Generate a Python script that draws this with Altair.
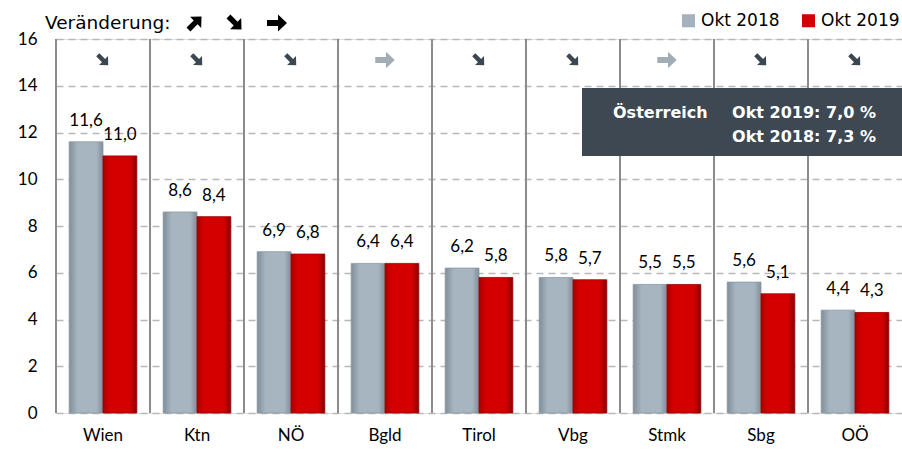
import altair as alt
import pandas as pd

# ---- data ----
regions = ["Wien", "Ktn", "NÖ", "Bgld", "Tirol", "Vbg", "Stmk", "Sbg", "OÖ"]
okt2018 = [11.6, 8.6, 6.9, 6.4, 6.2, 5.8, 5.5, 5.6, 4.4]
okt2019 = [11.0, 8.4, 6.8, 6.4, 5.8, 5.7, 5.5, 5.1, 4.3]
trend = ["down", "down", "down", "flat", "down", "down", "flat", "down", "down"]
series = ["Okt 2018", "Okt 2019"]
y_ticks = [0, 2, 4, 6, 8, 10, 12, 14, 16]
austria_2019 = 7.0
austria_2018 = 7.3

W, H = 846, 374
GRAY = "#a3b2bd"
RED = "#d20000"

# thick right-pointing arrow, rotated via angle
ARROW = "M-1,-0.3 L0.1,-0.3 L0.1,-0.85 L1,0 L0.1,0.85 L0.1,0.3 L-1,0.3 Z"
angles = {"up": 315, "down": 45, "flat": 0}
sizes = {"up": 220, "down": 220, "flat": 380}


def de(v):
    return f"{v:.1f}".replace(".", ",")


rows = []
for i, r in enumerate(regions):
    for s, v in zip(series, (okt2018[i], okt2019[i])):
        rows.append({"region": r, "series": s, "value": v, "label": de(v)})
df = pd.DataFrame(rows)

tdf = pd.DataFrame({
    "region": regions,
    "trend": trend,
    "ang": [angles[t] for t in trend],
    "sz": [sizes[t] for t in trend],
    "ypos": [15.1] * len(regions),
})

xscale = alt.Scale(domain=regions, paddingInner=0, paddingOuter=0)
xoff = alt.Scale(domain=series, paddingInner=0, paddingOuter=0.39)
yscale = alt.Scale(domain=[0, 16], nice=False)

X = alt.X("region:N", scale=xscale, sort=regions,
          axis=alt.Axis(title=None, labelAngle=0, ticks=False, domain=False,
                        bandPosition=0.5, labelAlign="center",
                        labelPadding=22, labelFontSize=17, labelFont="Lato",
                        labelColor="black"))
Y = alt.Y("value:Q", scale=yscale,
          axis=alt.Axis(values=y_ticks, title=None, grid=True, gridDash=[7, 5],
                        gridColor="#b8b8b8", gridWidth=1.5, domain=False,
                        ticks=False, labelPadding=19, labelFontSize=17,
                        labelFont="Lato", labelColor="black"))

base = alt.Chart(df)

gray_grad = alt.Gradient(gradient="linear", x1=0, x2=1, y1=0, y2=0, stops=[
    alt.GradientStop(color="#7f8e99", offset=0),
    alt.GradientStop(color="#a6b5c0", offset=0.25),
    alt.GradientStop(color="#a6b5c0", offset=0.8),
    alt.GradientStop(color="#7f8e99", offset=1)])
red_grad = alt.Gradient(gradient="linear", x1=0, x2=1, y1=0, y2=0, stops=[
    alt.GradientStop(color="#a80000", offset=0),
    alt.GradientStop(color="#d40000", offset=0.2),
    alt.GradientStop(color="#d40000", offset=0.8),
    alt.GradientStop(color="#8a0000", offset=1)])

bars_g = base.transform_filter(alt.datum.series == "Okt 2018").mark_bar(
    fill=gray_grad, stroke="#8a98a2", strokeWidth=0.8).encode(
    x=X, xOffset=alt.XOffset("series:N", scale=xoff), y=Y)
bars_r = base.transform_filter(alt.datum.series == "Okt 2019").mark_bar(
    fill=red_grad, stroke="#9a0000", strokeWidth=0.8).encode(
    x=X, xOffset=alt.XOffset("series:N", scale=xoff), y=Y)

legend_layer = base.mark_square(opacity=0).encode(
    x=X, y=Y,
    color=alt.Color("series:N", scale=alt.Scale(domain=series, range=[GRAY, RED]),
                    legend=alt.Legend(title=None, orient="none", direction="horizontal",
                                      legendX=624, legendY=-27, symbolType="square",
                                      symbolSize=170, symbolOpacity=1,
                                      symbolStrokeWidth=0, labelFont="DejaVu Sans",
                                      labelFontSize=17, labelColor="black",
                                      labelOffset=4, columnPadding=20,
                                      padding=0)))

labels = base.mark_text(baseline="bottom", dy=-12, fontSize=17, font="Lato",
                        color="black").encode(
    x=X, xOffset=alt.XOffset("series:N", scale=xoff), y=Y, text="label:N")

seps = alt.Chart(tdf).mark_rule(color="#8c8c8c", strokeWidth=2).encode(
    x=alt.X("region:N", scale=xscale, bandPosition=0, sort=regions),
    y=alt.value(0), y2=alt.value(H))

arrows_down = alt.Chart(tdf).transform_filter(alt.datum.trend != "flat").mark_point(
    shape=ARROW, filled=True, opacity=1, color="#3b4751").encode(
    x=alt.X("region:N", scale=xscale, sort=regions),
    y=alt.Y("ypos:Q", scale=yscale),
    size=alt.Size("sz:Q", scale=None),
    angle=alt.Angle("ang:Q", scale=None))
arrows_flat = alt.Chart(tdf).transform_filter(alt.datum.trend == "flat").mark_point(
    shape=ARROW, filled=True, opacity=1, color="#a2adb5").encode(
    x=alt.X("region:N", scale=xscale, sort=regions),
    y=alt.Y("ypos:Q", scale=yscale),
    size=alt.Size("sz:Q", scale=None),
    angle=alt.Angle("ang:Q", scale=None))

header = alt.Chart(pd.DataFrame({"t": ["Veränderung:"]})).mark_text(
    align="left", baseline="middle", fontSize=18.5, font="DejaVu Sans",
    color="black").encode(text="t:N", x=alt.value(-11), y=alt.value(-16))

hdr_arrows = alt.Chart(pd.DataFrame({
    "ang": [angles["up"], angles["down"], angles["flat"]],
    "sz": [340, 340, 400],
    "px": [139, 179, 221]})).mark_point(
    shape=ARROW, filled=True, opacity=1, color="black").encode(
    x=alt.X("px:Q", scale=None), y=alt.value(-16),
    size=alt.Size("sz:Q", scale=None),
    angle=alt.Angle("ang:Q", scale=None))

box = alt.Chart(pd.DataFrame({"a": [1]})).mark_rect(color="#3d4852").encode(
    x=alt.value(526), x2=alt.value(W + 10), y=alt.value(49), y2=alt.value(117))

box_title = alt.Chart(pd.DataFrame({"t": ["Österreich"]})).mark_text(
    align="left", baseline="middle", fontSize=16, font="DejaVu Sans",
    fontWeight="bold", color="white").encode(
    text="t:N", x=alt.value(557), y=alt.value(74))

box_text = alt.Chart(pd.DataFrame({
    "t": [f"Okt 2019: {de(austria_2019)} %",
          f"Okt 2018: {de(austria_2018)} %"],
    "py": [74, 98]})).mark_text(
    align="right", baseline="middle", fontSize=16, font="DejaVu Sans",
    fontWeight="bold", color="white").encode(
    text="t:N", x=alt.value(820), y=alt.Y("py:Q", scale=None))

chart = alt.layer(
    seps, bars_g, bars_r, legend_layer, labels, arrows_down, arrows_flat,
    header, hdr_arrows, box, box_title, box_text
).properties(
    width=W, height=H,
    autosize=alt.AutoSizeParams(type="none"),
    padding={"left": 56, "top": 39, "right": 0, "bottom": 39},
).configure_view(stroke="#8c8c8c", strokeWidth=2).configure(background="white")

chart.save("out.html", embed_options={"renderer": "svg", "actions": False})
